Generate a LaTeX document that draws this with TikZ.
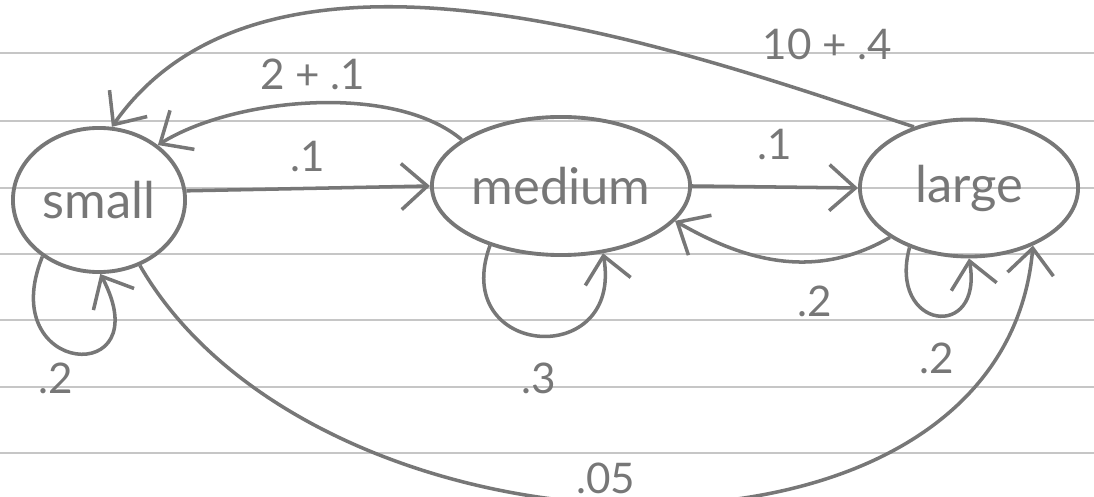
\documentclass[tikz,border=0pt]{standalone}
\usepackage{fontspec}
\setmainfont{Lato}
\usepackage{tikz}
\usetikzlibrary{positioning, shapes.geometric, arrows.meta}
\definecolor{pencil}{HTML}{777777}
\definecolor{ruling}{HTML}{C6C6C6}

\begin{document}
\begin{tikzpicture}[x=0.01cm, y=0.01cm,
  state/.style={ellipse, draw=pencil, line width=1.1pt, text=pencil, font=\Large, inner sep=0pt},
  edge/.style={draw=pencil, line width=1pt, -{Straight Barb[length=2.6mm, width=4.6mm]}},
  prob/.style={text=pencil, font=\large}
]
  \useasboundingbox (0,0) rectangle (1094,497);

  % Ruled paper
  \foreach \y in {44, 110, 177, 243, 309, 376, 444}
    \draw[ruling, line width=0.8pt] (0,\y) -- (1094,\y);

  % States
  \node[state, minimum width=1.72cm, minimum height=1.44cm] (small) at (99,297) {small};
  \node[state, minimum width=2.58cm, minimum height=1.38cm] (medium) at (561,311) {medium};
  \node[state, minimum width=2.18cm, minimum height=1.37cm] (large) at (969,309) {large};

  % Moving up one size
  \draw[edge] (small.6) -- node[prob, above=1pt] {.1} (medium.west);
  \draw[edge] (medium.east) -- node[prob, above=4pt] {.1} (large.west);

  % Moving back
  \draw[edge] (large.-148) to[out=-150, in=-30] node[prob, pos=0.35, below=3pt] {.2} (medium.-17);
  \draw[edge] (medium.155) to[out=140, in=32, looseness=0.75] node[prob, above=0pt] {2 + .1} (small.43);
  \draw[edge] (large.132) to[out=162, in=55, out looseness=0.7, in looseness=0.9] node[prob, pos=0.22, above right=0pt] {10 + .4} (small.80);

  % Jump from small to large
  \draw[edge] (small.-58) to[out=-60, in=-95, looseness=1.02] node[prob, pos=0.47, above=-1pt] {.05} (large.-42);

  % Staying in place
  \draw[edge] (small.-135) to[out=-112, in=-62, looseness=5.5] node[prob, pos=0.38, below=1pt] {.2} (small.-89);
  \draw[edge] (medium.-140) to[out=-110, in=-80, looseness=2.7] node[prob, pos=0.5, below=4pt] {.3} (medium.-58);
  \draw[edge] (large.-135) to[out=-105, in=-80, looseness=3.6] node[prob, pos=0.5, below=4pt] {.2} (large.-90);
\end{tikzpicture}
\end{document}
